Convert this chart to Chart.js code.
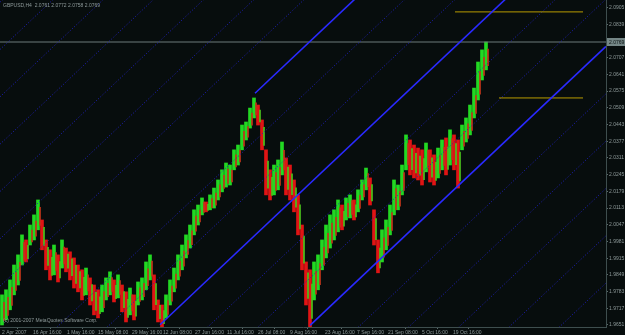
<!DOCTYPE html>
<html>
<head>
<meta charset="utf-8">
<script src="https://cdn.jsdelivr.net/npm/chart.js@4.4.1/dist/chart.umd.min.js"></script>
<style>
  html, body { margin: 0; padding: 0; background: #070d0d; overflow: hidden; }
  #wrap { width: 625px; height: 335px; }
</style>
</head>
<body>
<div id="wrap"><canvas id="chart"></canvas></div>
<script>
// GBPUSD,H4 bars (every slot is a group of H4 bars), high / low
const highs = [1.9770,1.9790,1.9829,1.9888,1.9928,2.0007,1.9987,2.0046,2.0086,2.0145,
  2.0066,1.9987,1.9948,1.9967,1.9928,1.9987,1.9955,1.9940,1.9916,1.9888,
  1.9869,1.9876,1.9837,1.9809,1.9790,1.9809,1.9837,1.9861,1.9829,1.9849,
  1.9809,1.9782,1.9797,1.9770,1.9821,1.9837,1.9900,1.9928,1.9849,1.9750,
  1.9730,1.9770,1.9829,1.9876,1.9928,1.9967,2.0007,2.0046,2.0106,2.0125,
  2.0153,2.0137,2.0165,2.0192,2.0224,2.0264,2.0291,2.0283,2.0343,2.0362,
  2.0441,2.0453,2.0508,2.0548,2.0520,2.0461,2.0343,2.0264,2.0283,2.0303,
  2.0374,2.0311,2.0283,2.0224,2.0165,2.0046,1.9900,1.9869,1.9900,1.9928,
  1.9987,2.0046,2.0086,2.0106,2.0145,2.0125,2.0153,2.0165,2.0145,2.0185,
  2.0224,2.0271,2.0232,2.0106,1.9987,2.0027,2.0066,2.0125,2.0224,2.0204,
  2.0283,2.0402,2.0382,2.0362,2.0350,2.0343,2.0370,2.0343,2.0323,2.0350,
  2.0382,2.0390,2.0422,2.0402,2.0382,2.0441,2.0469,2.0520,2.0587,2.0690,
  2.0738,2.0769];
const lows = [1.9651,1.9671,1.9711,1.9770,1.9809,1.9888,1.9900,1.9967,1.9987,2.0027,
  1.9948,1.9869,1.9829,1.9849,1.9821,1.9876,1.9861,1.9829,1.9797,1.9782,
  1.9750,1.9770,1.9730,1.9691,1.9679,1.9703,1.9750,1.9770,1.9742,1.9758,
  1.9703,1.9663,1.9691,1.9671,1.9730,1.9750,1.9790,1.9829,1.9711,1.9663,
  1.9643,1.9679,1.9730,1.9782,1.9829,1.9869,1.9916,1.9955,2.0007,2.0046,
  2.0086,2.0098,2.0106,2.0113,2.0145,2.0177,2.0196,2.0204,2.0264,2.0283,
  2.0343,2.0382,2.0429,2.0469,2.0441,2.0343,2.0165,2.0145,2.0165,2.0185,
  2.0244,2.0165,2.0145,2.0098,2.0007,1.9869,1.9730,1.9643,1.9750,1.9790,
  1.9869,1.9916,1.9955,1.9987,2.0019,2.0027,2.0066,2.0074,2.0066,2.0098,
  2.0145,2.0185,2.0125,1.9967,1.9857,1.9900,1.9948,2.0007,2.0086,2.0106,
  2.0165,2.0264,2.0244,2.0232,2.0224,2.0204,2.0256,2.0216,2.0204,2.0232,
  2.0264,2.0244,2.0283,2.0264,2.0192,2.0343,2.0374,2.0402,2.0469,2.0540,
  2.0619,2.0659];

const timeTicks = [0, 7.75, 16.25, 24, 32.5, 40.25, 48.25, 56.25, 64, 72, 80.75, 88.75, 96.5, 105, 112.75];
const timeLabels = ['2 Apr 2007', '16 Apr 16:00', '1 May 16:00', '15 May 08:00', '29 May 16:00',
  '12 Jun 08:00', '27 Jun 16:00', '11 Jul 16:00', '26 Jul 08:00', '9 Aug 16:00',
  '23 Aug 16:00', '7 Sep 16:00', '21 Sep 08:00', '5 Oct 16:00', '19 Oct 16:00'];
const priceTicks = [1.9651, 1.9717, 1.9783, 1.9849, 1.9915, 1.9981, 2.0047, 2.0113, 2.0179, 2.0245,
  2.0311, 2.0377, 2.0443, 2.0509, 2.0575, 2.0641, 2.0707, 2.0773, 2.0839, 2.0905];
const header = 'GBPUSD,H4  2.0761 2.0772 2.0758 2.0769';
const lastPrice = 2.0769;

// equidistant channel: base line through two anchors, lines every step
const chanA = { x: 39.5, y: 1.9652 };
const chanB = { x: 114.5, y: 2.0769 };
const chanStep = 0.0187;
const chanSolid = [{ k: -3, from: 77 }, { k: 0, from: 39.5 }, { k: 3, from: 63.25 }];
const chanDotted = [-9, -8, -7, -6, -5, -4, -2, -1, 1, 2, 4, 5, 6, 7, 8, 9, 10, 11, 12];

// horizontal levels
const levels = [{ y: 2.0888, from: 113.25, to: 145.25 }, { y: 2.0548, from: 124.25, to: 145.25 }];

const X_MIN = -0.5, X_MAX = 151;
const UP = '#22d822', DOWN = '#e01414';
const FONT = { family: 'Liberation Sans', size: 5 };

const slope = (chanB.y - chanA.y) / (chanB.x - chanA.x);
const chanAt = (x, k) => chanA.y + (x - chanA.x) * slope + k * chanStep;

const mids = highs.map((h, i) => (h + lows[i]) / 2);
const upFlags = mids.map((m, i) => i === 0 ? true : m >= mids[i - 1]);

let datasets = [];
datasets.push({
  type: 'bar',
  data: highs.map((h, i) => ({ x: i, y: [lows[i], h] })),
  backgroundColor: upFlags.map(u => u ? UP : DOWN),
  barThickness: 3,
  grouped: false,
  order: 10
});
// thin in-between strokes give the mixed up/down look of the dense bars
datasets.push({
  type: 'bar',
  data: highs.map((h, i) => ({ x: i + 0.5, y: [lows[i] + (h - lows[i]) * 0.15, h - (h - lows[i]) * 0.25] })),
  backgroundColor: upFlags.map(u => u ? '#c4361a' : '#4cc41c'),
  barThickness: 1,
  grouped: false,
  order: 9
});

chanDotted.forEach(k => {
  datasets.push({
    type: 'line',
    data: [{ x: X_MIN, y: chanAt(X_MIN, k) }, { x: X_MAX, y: chanAt(X_MAX, k) }],
    borderColor: '#2020bc', borderWidth: 1, borderDash: [1, 2],
    pointRadius: 0, order: 2
  });
});
chanSolid.forEach(s => {
  datasets.push({
    type: 'line',
    data: [{ x: s.from, y: chanAt(s.from, s.k) }, { x: X_MAX, y: chanAt(X_MAX, s.k) }],
    borderColor: '#2a2aff', borderWidth: 1.6,
    pointRadius: 0, order: 1
  });
});
levels.forEach(l => {
  datasets.push({
    type: 'line',
    data: [{ x: l.from, y: l.y }, { x: l.to, y: l.y }],
    borderColor: '#b89b00', borderWidth: 1,
    pointRadius: 0, order: 1
  });
});
datasets.push({
  type: 'line',
  data: [{ x: X_MIN, y: lastPrice }, { x: X_MAX, y: lastPrice }],
  borderColor: '#6c7a7a', borderWidth: 1,
  pointRadius: 0, order: 3
});

const mtPlugin = {
  id: 'mt',
  beforeDraw(chart) {
    const ctx = chart.ctx;
    ctx.save();
    ctx.fillStyle = '#070d0d';
    ctx.fillRect(0, 0, chart.width, chart.height);
    ctx.restore();
  },
  afterDraw(chart) {
    const ctx = chart.ctx;
    const ys = chart.scales.y;
    const a = chart.chartArea;
    ctx.save();
    ctx.font = '5px "Liberation Sans"';
    ctx.fillStyle = '#8e9a9a';
    ctx.textBaseline = 'middle';
    ctx.fillText(header, 3, 6);
    ctx.fillText('(c) 2001-2007 MetaQuotes Software Corp.', 3, 321);
    const py = Math.round(ys.getPixelForValue(lastPrice));
    ctx.fillStyle = '#748686';
    ctx.fillRect(a.right + 1, py - 4, 18, 8);
    ctx.fillStyle = '#0a1212';
    ctx.fillText(lastPrice.toFixed(4), a.right + 3, py + 0.5);
    ctx.restore();
  }
};

new Chart(document.getElementById('chart'), {
  data: { datasets: datasets },
  options: {
    responsive: true,
    maintainAspectRatio: false,
    animation: false,
    layout: { padding: 0 },
    plugins: { legend: { display: false }, tooltip: { enabled: false } },
    scales: {
      x: {
        type: 'linear', min: X_MIN, max: X_MAX, position: 'bottom', offset: false,
        afterBuildTicks: s => { s.ticks = timeTicks.map(v => ({ value: v })); },
        afterFit: s => { s.height = 8; s.paddingLeft = 0; s.paddingRight = 0; },
        ticks: {
          autoSkip: false, maxRotation: 0, align: 'start', padding: 1,
          color: '#8e9a9a', font: FONT,
          callback: (v) => timeLabels[timeTicks.indexOf(v)]
        },
        grid: { drawOnChartArea: false, tickLength: 2, color: '#5a6a6a' },
        border: { color: '#3e4e4e' }
      },
      y: {
        type: 'linear', position: 'right', min: 1.9643, max: 2.0935,
        afterBuildTicks: s => { s.ticks = priceTicks.map(v => ({ value: v })); },
        afterFit: s => { s.width = 19; s.paddingTop = 0; s.paddingBottom = 0; },
        ticks: {
          padding: 1, color: '#8e9a9a', font: FONT,
          callback: v => v.toFixed(4)
        },
        grid: { drawOnChartArea: false, tickLength: 2, color: '#5a6a6a' },
        border: { color: '#3e4e4e' }
      }
    }
  },
  plugins: [mtPlugin]
});
</script>
</body>
</html>
